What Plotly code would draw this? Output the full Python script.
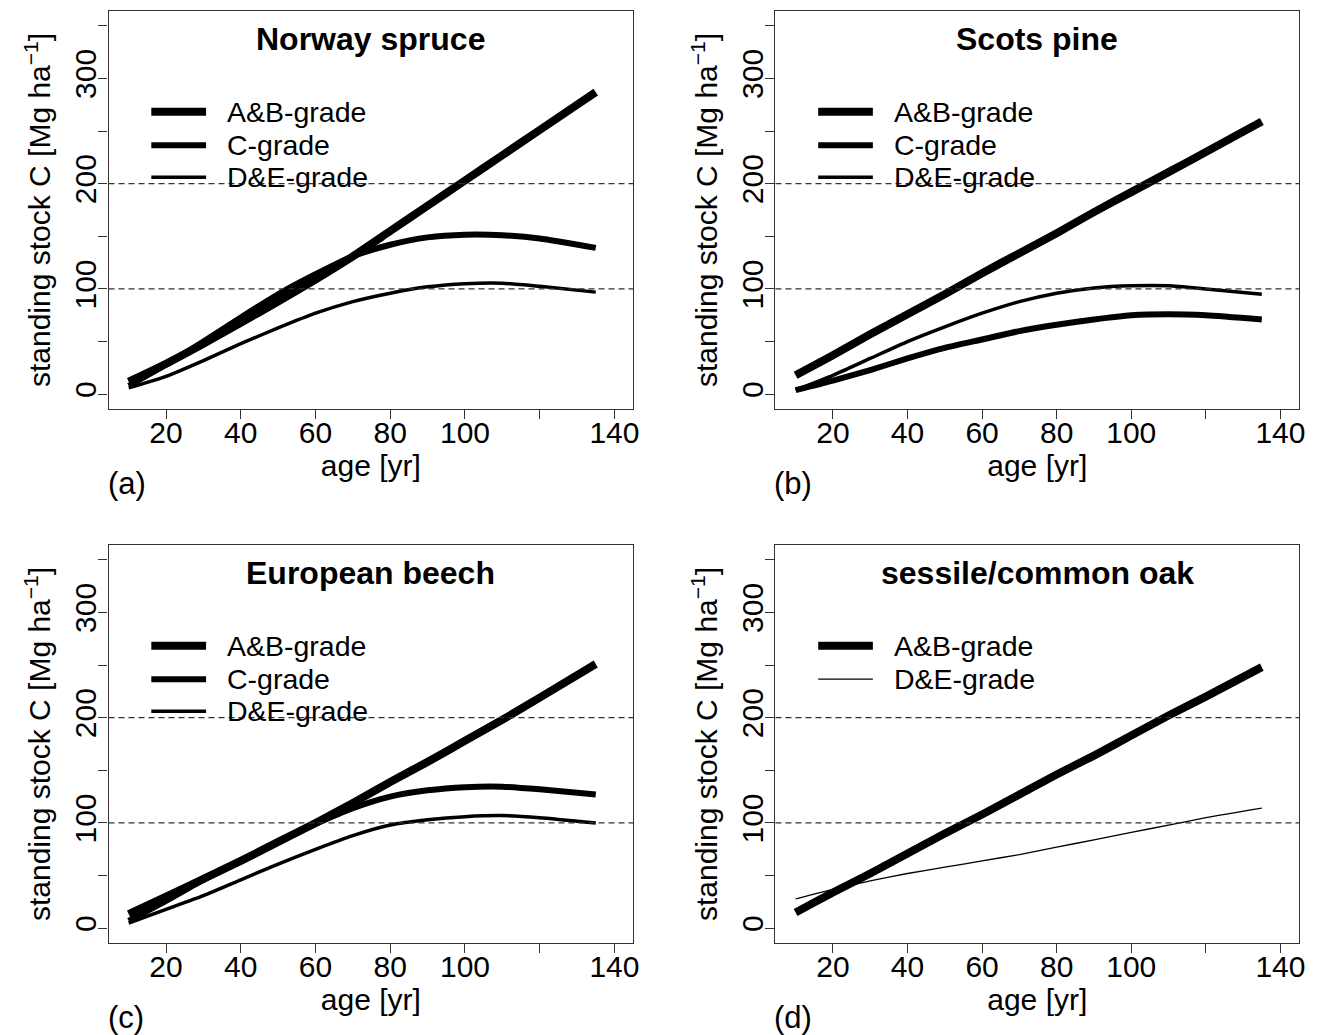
import plotly.graph_objects as go

# ---------------- data ----------------
age = [10, 20, 30, 40, 50, 60, 70, 80, 90, 100, 110, 120, 135]

spruce_ab = [12, 29, 48, 68, 88, 109, 131, 155, 179, 203, 227, 251, 287]
spruce_c = [8, 28, 50, 73, 95, 114, 131, 142, 149, 151.5, 151, 148, 139]
spruce_de = [6, 17, 32, 48, 63, 77, 88, 96, 102, 105, 105.5, 102.5, 97]

pine_ab = [18, 37, 57, 76, 95, 115, 134, 153, 173, 192, 211, 230, 259]
pine_c = [4, 13, 23, 34, 44, 52, 60, 66, 71, 75, 76, 75, 71]
pine_de = [4, 18, 34, 50, 64, 77, 88, 96, 101, 103, 103, 100, 95]

beech_ab = [13.5, 30, 47, 64, 82, 100, 119, 139, 158, 178, 198, 219, 251]
beech_c = [7, 26, 46, 64, 82, 99, 114, 125, 131, 134, 134.5, 132, 127]
beech_de = [5, 18, 31, 46, 61, 75, 88, 98, 103, 106, 107, 105, 100]

oak_ab = [15, 34, 52, 71, 90, 108, 127, 146, 164, 183, 202, 220, 248]
oak_de = [28, 37, 45, 52, 58, 64, 70, 77, 84, 91, 98, 105, 114]

x_major = [20, 40, 60, 80, 100, 140]
x_minor = [120]
y_major = [0, 100, 200, 300]
y_minor = [50, 150, 250, 350]
ref_lines = [100, 200]

titles = ["Norway spruce", "Scots pine", "European beech", "sessile/common oak"]
letters = ["(a)", "(b)", "(c)", "(d)"]

panels = [
    [("A&B-grade", spruce_ab, 8), ("C-grade", spruce_c, 6), ("D&E-grade", spruce_de, 3.5)],
    [("A&B-grade", pine_ab, 8), ("C-grade", pine_c, 6), ("D&E-grade", pine_de, 3.5)],
    [("A&B-grade", beech_ab, 8), ("C-grade", beech_c, 6), ("D&E-grade", beech_de, 3.5)],
    [("A&B-grade", oak_ab, 8), ("D&E-grade", oak_de, 1.3)],
]

# ---------------- layout geometry ----------------
W, H = 1325, 1035
xdom = [[109 / W, 636 / W], [779 / W, 1305 / W]]
ydom = [[1 - 409 / H, 1 - 11 / H], [1 - 943 / H, 1 - 545 / H]]
FONT = "Liberation Sans, Arial, Helvetica, sans-serif"

fig = go.Figure()
shapes = []
annotations = []

for i, series in enumerate(panels):
    r, c = divmod(i, 2)
    sfx = "" if i == 0 else str(i + 1)
    xa, ya = "x" + sfx, "y" + sfx
    for name, vals, w in series:
        fig.add_trace(go.Scatter(
            x=age, y=vals, mode="lines", name=name, showlegend=False,
            line=dict(color="black", width=w, shape="spline", smoothing=0.6),
            xaxis=xa, yaxis=ya,
        ))
    axis_common = dict(
        showgrid=False, zeroline=False, showline=True, mirror=True,
        linecolor="#333333", linewidth=1.3, ticks="outside", ticklen=9,
        tickwidth=1.3, tickcolor="#333333",
        tickfont=dict(family=FONT, size=30, color="black"),
    )
    minor_common = dict(ticks="outside", ticklen=9, tickwidth=1.3,
                        tickcolor="#333333", showgrid=False)
    fig.layout["xaxis" + sfx] = dict(
        axis_common, domain=xdom[c], range=[4.6, 145.0],
        tickmode="array", tickvals=x_major, anchor=ya,
        minor=dict(minor_common, tickvals=x_minor),
        ticklabelstandoff=-12,
        title=dict(text="age [yr]", font=dict(family=FONT, size=30, color="black"), standoff=0),
    )
    fig.layout["yaxis" + sfx] = dict(
        axis_common, domain=ydom[r], range=[-14, 364],
        tickmode="array", tickvals=y_major, tickangle=-90, anchor=xa,
        minor=dict(minor_common, tickvals=y_minor),
        ticklabelstandoff=-10,
        title=dict(text="standing stock C [Mg ha<sup>\u22121</sup>]",
                   font=dict(family=FONT, size=30, color="black"), standoff=9),
    )
    # dashed reference lines
    for yv in ref_lines:
        shapes.append(dict(type="line", xref=xa + " domain", yref=ya,
                           x0=0, x1=1, y0=yv, y1=yv,
                           line=dict(color="#333333", width=1.2, dash="6px,4px")))
    # legend keys (drawn inside the panel, no box)
    row_y = [0.747, 0.663, 0.582]
    for k, (name, vals, w) in enumerate(series):
        shapes.append(dict(type="line", xref=xa + " domain", yref=ya + " domain",
                           x0=0.0816, x1=0.186, y0=row_y[k], y1=row_y[k],
                           line=dict(color="black", width=w)))
        annotations.append(dict(xref=xa + " domain", yref=ya + " domain",
                                x=0.222, y=row_y[k], text=name, showarrow=False,
                                xanchor="left", yanchor="middle",
                                font=dict(family=FONT, size=28.5, color="black")))
    # panel title
    x0p, x1p = xdom[c]
    y0p, y1p = ydom[r]
    annotations.append(dict(xref="paper", yref="paper", x=(x0p + x1p) / 2,
                            y=y1p - 28 / H, text="<b>" + titles[i] + "</b>",
                            showarrow=False, xanchor="center", yanchor="middle",
                            font=dict(family=FONT, size=32, color="black")))
    # panel letter
    annotations.append(dict(xref="paper", yref="paper", x=x0p - 3 / W,
                            y=y0p - 74 / H, text=letters[i], showarrow=False,
                            xanchor="left", yanchor="middle",
                            font=dict(family=FONT, size=31, color="black")))

fig.update_layout(
    width=W, height=H, margin=dict(l=0, r=0, t=0, b=0),
    paper_bgcolor="white", plot_bgcolor="white",
    shapes=shapes, annotations=annotations, showlegend=False,
    font=dict(family=FONT, color="black"),
)

fig.write_html(
    "out.html",
    config={"displayModeBar": False},
    post_script="document.body.style.margin='0px';document.body.style.overflow='hidden';",
)
